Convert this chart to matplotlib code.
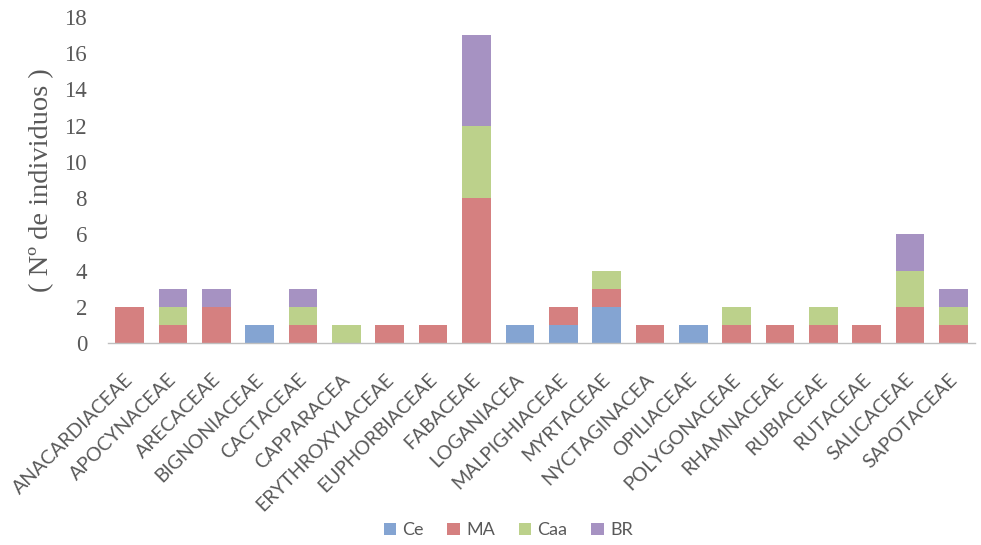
import matplotlib
matplotlib.use("Agg")
import matplotlib.pyplot as plt
import matplotlib.transforms as mtransforms
import numpy as np

families = ["ANACARDIACEAE", "APOCYNACEAE", "ARECACEAE", "BIGNONIACEAE", "CACTACEAE",
            "CAPPARACEA", "ERYTHROXYLACEAE", "EUPHORBIACEAE", "FABACEAE", "LOGANIACEA",
            "MALPIGHIACEAE", "MYRTACEAE", "NYCTAGINACEA", "OPILIACEAE", "POLYGONACEAE",
            "RHAMNACEAE", "RUBIACEAE", "RUTACEAE", "SALICACEAE", "SAPOTACEAE"]
ce  = [0, 0, 0, 1, 0, 0, 0, 0, 0, 1, 1, 2, 0, 1, 0, 0, 0, 0, 0, 0]
ma  = [2, 1, 2, 0, 1, 0, 1, 1, 8, 0, 1, 1, 1, 0, 1, 1, 1, 1, 2, 1]
caa = [0, 1, 0, 0, 1, 1, 0, 0, 4, 0, 0, 1, 0, 0, 1, 0, 1, 0, 2, 1]
br  = [0, 1, 1, 0, 1, 0, 0, 0, 5, 0, 0, 0, 0, 0, 0, 0, 0, 0, 2, 1]
series_names = ["Ce", "MA", "Caa", "BR"]
colors = ["#84A4D2", "#D58080", "#BCD18B", "#A692C2"]
yticks = [0, 2, 4, 6, 8, 10, 12, 14, 16, 18]

fig = plt.figure(figsize=(9.81, 5.45), dpi=100)
ax = fig.add_axes([0.110, 0.3706, 0.884, 0.5985])

x = np.arange(len(families))
bottom = np.zeros(len(families))
for name, vals, c in zip(series_names, [ce, ma, caa, br], colors):
    v = np.array(vals, dtype=float)
    ax.bar(x, v, bottom=bottom, width=0.66, color=c, label=name, zorder=2)
    bottom += v

ax.set_xlim(-0.5, len(families) - 0.5)
ax.set_ylim(0, 18)
ax.set_yticks(yticks)
ax.set_yticklabels([str(t) for t in yticks], fontfamily="Liberation Serif",
                   fontsize=16.5, color="#595959")
ax.tick_params(axis="y", length=0, pad=15)
ax.set_xticks(x)
ax.set_xticklabels(families, rotation=45, ha="right", rotation_mode="anchor",
                   fontfamily="Lato", fontsize=14, color="#595959")
ax.tick_params(axis="x", length=0, pad=20)
shift = mtransforms.ScaledTranslation(-5 / 100, 0, fig.dpi_scale_trans)
for lbl in ax.get_xticklabels():
    lbl.set_transform(lbl.get_transform() + shift)

for s in ["top", "right", "left"]:
    ax.spines[s].set_visible(False)
ax.spines["bottom"].set_color("#BFBFBF")
ax.spines["bottom"].set_linewidth(1.0)

fig.text(0.042, 0.67, "( Nº de individuos )", rotation=90, ha="center", va="center",
         fontfamily="Liberation Serif", fontsize=20.5, color="#595959")

leg = fig.legend(loc="center", ncol=4, frameon=False,
                 prop={"family": "Lato", "size": 13}, handlelength=0.7, handleheight=0.7,
                 handletextpad=0.35, columnspacing=1.3, labelcolor="#595959")
leg.set_bbox_to_anchor((0.518, 0.027), transform=fig.transFigure)

fig.savefig("out.png", dpi=100)
